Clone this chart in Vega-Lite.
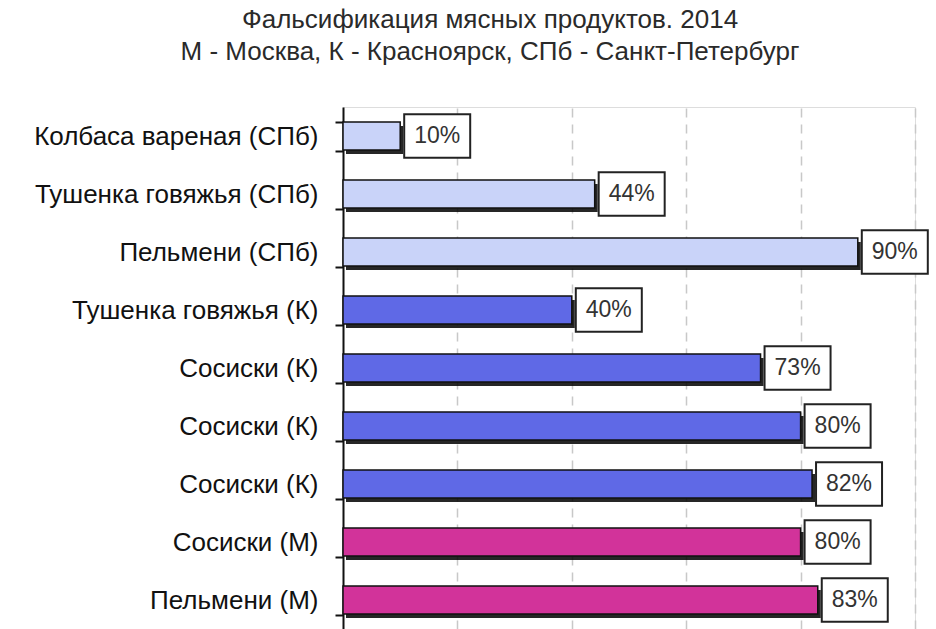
{
  "$schema": "https://vega.github.io/schema/vega-lite/v6.json",
  "width": 572,
  "height": 522,
  "autosize": {"type": "none"},
  "padding": {"left": 343, "top": 107, "right": 21, "bottom": 0},
  "background": "white",
  "title": {
    "text": ["Фальсификация мясных продуктов. 2014", "М - Москва, К - Красноярск, СПб - Санкт-Петербург"],
    "fontSize": 26,
    "font": "Liberation Sans",
    "fontWeight": "normal",
    "color": "#2a2a2a",
    "lineHeight": 32,
    "anchor": "middle",
    "frame": "group",
    "dx": -139,
    "offset": 29
  },
  "data": {
    "values": [
      {"id": "Колбаса вареная (СПб)|1", "city": "СПб", "value": 0.10},
      {"id": "Тушенка говяжья (СПб)|2", "city": "СПб", "value": 0.44},
      {"id": "Пельмени (СПб)|3", "city": "СПб", "value": 0.90},
      {"id": "Тушенка говяжья (К)|4", "city": "К", "value": 0.40},
      {"id": "Сосиски (К)|5", "city": "К", "value": 0.73},
      {"id": "Сосиски (К)|6", "city": "К", "value": 0.80},
      {"id": "Сосиски (К)|7", "city": "К", "value": 0.82},
      {"id": "Сосиски (М)|8", "city": "М", "value": 0.80},
      {"id": "Пельмени (М)|9", "city": "М", "value": 0.83}
    ]
  },
  "encoding": {
    "y": {
      "field": "id",
      "type": "nominal",
      "sort": null,
      "scale": {"paddingInner": 0.5, "paddingOuter": 0.25},
      "axis": {
        "title": null,
        "labelExpr": "datum.value ? split(datum.value, '|')[0] : ''",
        "labelFont": "Liberation Sans",
        "labelFontSize": 26,
        "labelColor": "#111111",
        "labelPadding": 17,
        "labelLimit": 400,
        "domainColor": "#111111",
        "domainWidth": 2,
        "tickColor": "#111111",
        "tickWidth": 2,
        "tickSize": 8,
        "tickBand": "extent",
        "grid": false
      }
    },
    "x": {
      "field": "value",
      "type": "quantitative",
      "scale": {"domain": [0, 1], "nice": false, "zero": true},
      "axis": {
        "title": null,
        "values": [0.2, 0.4, 0.6, 0.8, 1.0],
        "labels": false,
        "ticks": false,
        "domain": false,
        "grid": true,
        "gridColor": "#c8c8c8",
        "gridWidth": 1.5,
        "gridDash": [9, 7]
      }
    }
  },
  "layer": [
    {
      "mark": {"type": "bar", "color": "#000000", "size": 28, "xOffset": 3, "yOffset": 4, "opacity": 0.85}
    },
    {
      "mark": {"type": "bar", "size": 28, "stroke": "#111111", "strokeWidth": 1.5},
      "encoding": {
        "color": {
          "field": "city",
          "type": "nominal",
          "scale": {"domain": ["СПб", "К", "М"], "range": ["#c9d3f9", "#5f69e6", "#d2339a"]},
          "legend": null
        }
      }
    },
    {
      "mark": {
        "type": "point",
        "shape": "M-1,-0.66H1V0.66H-1Z",
        "size": 4356,
        "filled": true,
        "fill": "white",
        "stroke": "#222222",
        "strokeWidth": 2,
        "opacity": 1,
        "xOffset": 37
      }
    },
    {
      "mark": {
        "type": "text",
        "xOffset": 37,
        "align": "center",
        "baseline": "middle",
        "font": "Liberation Sans",
        "fontSize": 23,
        "color": "#333333"
      },
      "encoding": {
        "text": {"field": "value", "type": "quantitative", "format": ".0%"}
      }
    }
  ]
}
